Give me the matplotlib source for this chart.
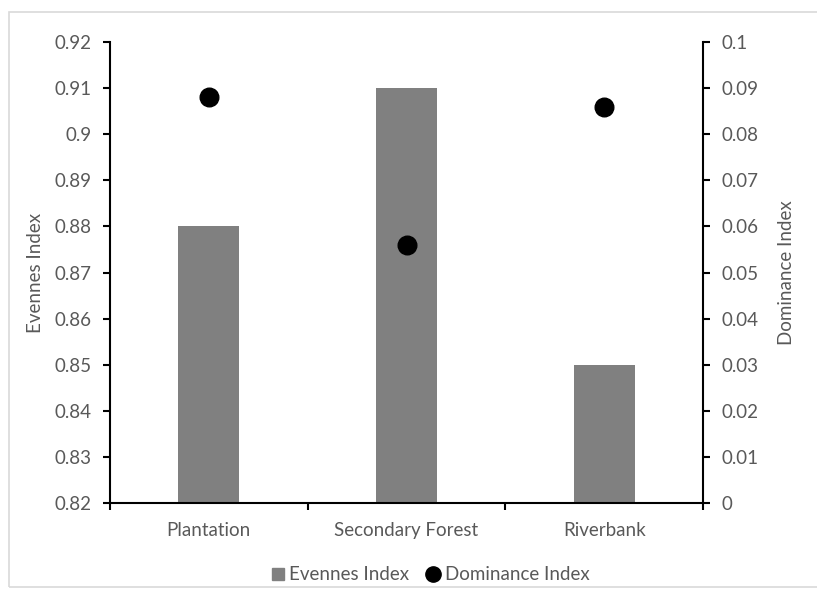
import matplotlib
matplotlib.use("Agg")
import matplotlib.pyplot as plt
from matplotlib.lines import Line2D
from matplotlib.patches import Rectangle

categories = ["Plantation", "Secondary Forest", "Riverbank"]
evenness = [0.88, 0.91, 0.85]
dominance = [0.088, 0.056, 0.086]
left_ticks = [0.82, 0.83, 0.84, 0.85, 0.86, 0.87, 0.88, 0.89, 0.9, 0.91, 0.92]
left_labels = ["0.82", "0.83", "0.84", "0.85", "0.86", "0.87", "0.88", "0.89", "0.9", "0.91", "0.92"]
right_ticks = [0, 0.01, 0.02, 0.03, 0.04, 0.05, 0.06, 0.07, 0.08, 0.09, 0.1]
right_labels = ["0", "0.01", "0.02", "0.03", "0.04", "0.05", "0.06", "0.07", "0.08", "0.09", "0.1"]

plt.rcParams['font.family'] = ['Lato', 'DejaVu Sans']
txt = "#595959"
fs = 13.5

fig = plt.figure(figsize=(8.17, 5.89), dpi=100)
fig.patches.append(Rectangle((9/817, 0.004), 1.2, 1 - 12/589 - 0.004, transform=fig.transFigure,
                             fill=False, edgecolor="#d9d9d9", linewidth=1.2))
ax = fig.add_axes([110/817, 1 - 503/589, (703 - 110)/817, (503 - 42)/589])
x = list(range(len(categories)))
ax.bar(x, [e - 0.82 for e in evenness], bottom=0.82, width=0.31, color="#808080", zorder=2)
ax.set_xlim(-0.5, 2.5)
ax.set_ylim(0.82, 0.92)
ax.set_yticks(left_ticks)
ax.set_yticklabels(left_labels)
ax.set_xticks(x)
ax.set_xticklabels(categories)
ax.set_xticks([-0.5, 0.5, 1.5, 2.5], minor=True)
ax.tick_params(axis='x', which='major', length=0, pad=14, labelsize=fs, labelcolor=txt)
ax.tick_params(axis='x', which='minor', length=5, width=1.5, direction='out')
ax.tick_params(axis='y', length=5, width=1.5, direction='out', labelsize=fs, labelcolor=txt, pad=8)
for s in ['top', 'right']:
    ax.spines[s].set_visible(False)
for s in ['left', 'bottom']:
    ax.spines[s].set_linewidth(1.5)
ax.set_ylabel("Evennes Index", fontsize=fs, color=txt, labelpad=8)

ax2 = ax.twinx()
ax2.scatter(x, dominance, s=180, color="black", zorder=3)
ax2.set_ylim(0, 0.1)
ax2.set_yticks(right_ticks)
ax2.set_yticklabels(right_labels)
ax2.tick_params(axis='y', length=5, width=1.5, direction='out', labelsize=fs, labelcolor=txt, pad=8)
for s in ['top', 'left', 'bottom']:
    ax2.spines[s].set_visible(False)
ax2.spines['right'].set_linewidth(1.5)
ax2.set_ylabel("Dominance Index", fontsize=fs, color=txt, labelpad=14)

handles = [Line2D([], [], marker='s', linestyle='none', color="#808080", markersize=8),
           Line2D([], [], marker='o', linestyle='none', color="black", markersize=11)]
fig.legend(handles, ["Evennes Index", "Dominance Index"], loc='center', bbox_to_anchor=(0.525, 1 - 575/589),
           ncol=2, frameon=False, fontsize=fs, labelcolor=txt, handletextpad=0.1, columnspacing=0.8,
           handlelength=1.0)
fig.savefig("out.png", dpi=100)
